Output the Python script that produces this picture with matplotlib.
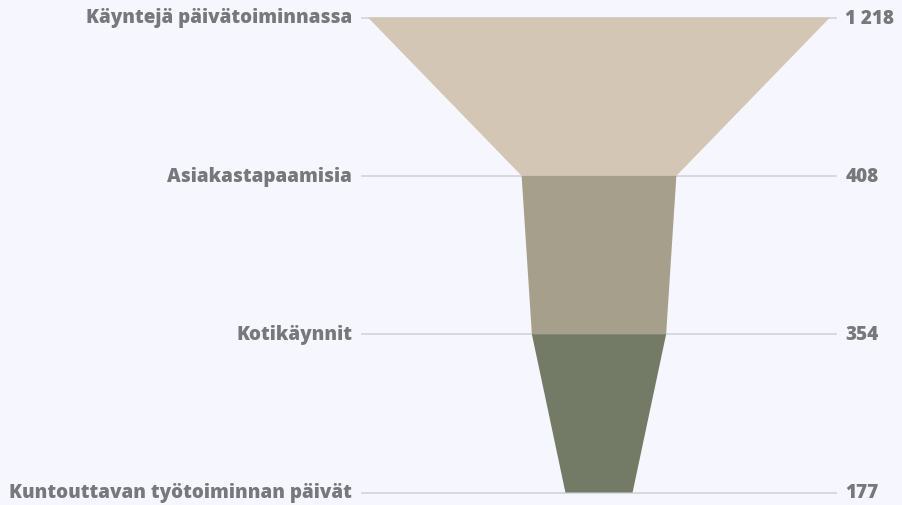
import matplotlib.pyplot as plt
from matplotlib.patches import Polygon

labels = ['Käyntejä päivätoiminnassa', 'Asiakastapaamisia', 'Kotikäynnit',
          'Kuntouttavan työtoiminnan päivät']
values = [1218, 408, 354, 177]
value_text = ['1 218', '408', '354', '177']
colors = ['#d4c6b5', '#a59f8b', '#737a66']

bg = '#f6f7fe'
txt = '#77787c'

fig = plt.figure(figsize=(9.02, 5.06), dpi=100, facecolor=bg)
ax = fig.add_axes([0, 0, 1, 1])
ax.set_facecolor(bg)

# 462 px for the widest level, funnel centred at x=599 px
scale = 462 / values[0]
ax.set_xlim(-599 / scale, (902 - 599) / scale)
top, bottom = 18.5, 493.5
step = (bottom - top) / 3
ax.set_ylim((506 - top) / step, -top / step)
ax.axis('off')

vmax = values[0]
for i, v in enumerate(values):
    ax.plot([-vmax / 2 - 16, vmax / 2 + 16], [i, i], color='#d3d4da', lw=1.2, zorder=1)
    ax.text(-vmax / 2 - 42, i, labels[i], ha='right', va='center', fontsize=13.6,
            fontweight='heavy', color=txt, family='Open Sans')
    ax.text(vmax / 2 + 40, i, value_text[i], ha='left', va='center', fontsize=13.6,
            fontweight='heavy', color=txt, family='Open Sans')

for i in range(len(values) - 1):
    a, b = values[i] / 2, values[i + 1] / 2
    poly = Polygon([(-a, i), (a, i), (b, i + 1), (-b, i + 1)], closed=True,
                   facecolor=colors[i], edgecolor='none', zorder=2)
    ax.add_patch(poly)

fig.savefig('out.png', dpi=100, facecolor=bg)
